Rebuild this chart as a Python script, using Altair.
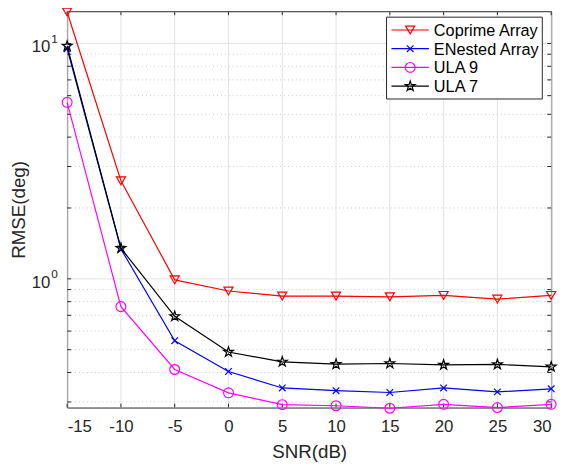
import math
import altair as alt
import pandas as pd

# ---- data ----
snr = [-15, -10, -5, 0, 5, 10, 15, 20, 25, 30]
coprime = [13.6, 2.61, 0.99, 0.888, 0.845, 0.845, 0.839, 0.85, 0.82, 0.85]
enested = [9.5, 1.34, 0.546, 0.404, 0.344, 0.335, 0.329, 0.344, 0.331, 0.341]
ula9 = [5.62, 0.762, 0.412, 0.328, 0.292, 0.289, 0.282, 0.293, 0.284, 0.293]
ula7 = [9.75, 1.35, 0.693, 0.489, 0.444, 0.434, 0.437, 0.431, 0.433, 0.423]

series_names = ["Coprime Array", "ENested Array", "ULA 9", "ULA 7"]
series_values = [coprime, enested, ula9, ula7]
series_colors = ["#ff0000", "#0000ff", "#ff00ff", "#000000"]

y_major = [1, 10]
y_minor = [0.3, 0.4, 0.5, 0.6, 0.7, 0.8, 0.9, 2, 3, 4, 5, 6, 7, 8, 9]
y_major_labels = ["10", "10"]
y_major_exps = ["0", "1"]

W, H = 491, 402
FONT = "Liberation Sans"
AX = "#262626"

# marker shapes
pts = []
for k in range(10):
    r = 1.0 if k % 2 == 0 else 0.382
    a = -math.pi / 2 + k * math.pi / 5
    pts.append((r * math.cos(a), r * math.sin(a)))
star_path = "M" + "L".join(f"{x:.3f},{y:.3f}" for x, y in pts) + "Z"
x_path = "M-1,-1L1,1M-1,1L1,-1"
series_shapes = ["triangle-down", x_path, "circle", star_path]
series_sizes = [85, 45, 100, 110]

xscale = alt.Scale(domain=[-15, 30], nice=False, zero=False)
yscale = alt.Scale(type="log", domain=[0.284, 13.7], nice=False)

x_axis = alt.Axis(values=snr, labelExpr="toString(datum.value)", ticks=False,
                  domain=False, grid=False, labelFontSize=17, labelColor=AX,
                  labelPadding=11, title="SNR(dB)", titleFontSize=19,
                  titleFontWeight="normal", titleColor=AX, titlePadding=9)
y_axis = alt.Axis(labels=False, ticks=False, domain=False, grid=False,
                  title="RMSE(deg)", titleFontSize=19, titleFontWeight="normal",
                  titleColor=AX, titlePadding=39)

def X(field):
    return alt.X(f"{field}:Q", scale=xscale, axis=x_axis)

def Y(field):
    return alt.Y(f"{field}:Q", scale=yscale, axis=y_axis)

xgrid_df = pd.DataFrame({"v": snr})
ymaj_df = pd.DataFrame({"v": y_major, "base": y_major_labels, "exp": y_major_exps})
ymin_df = pd.DataFrame({"v": y_minor})
yall_df = pd.DataFrame({"v": y_major + y_minor})

layers = []
# grid
layers.append(alt.Chart(xgrid_df).mark_rule(color="#e3e3e3", strokeWidth=1).encode(
    x=X("v"), y=alt.value(0), y2=alt.value(H)))
layers.append(alt.Chart(ymaj_df).mark_rule(color="#e3e3e3", strokeWidth=1).encode(
    y=Y("v"), x=alt.value(0), x2=alt.value(W)))
layers.append(alt.Chart(ymin_df).mark_rule(color="#c8c8c8", strokeWidth=1, strokeDash=[1, 3]).encode(
    y=Y("v"), x=alt.value(0), x2=alt.value(W)))
# inward ticks
for y0, y1 in [(0, 4), (H - 4, H)]:
    layers.append(alt.Chart(xgrid_df).mark_rule(color=AX, strokeWidth=1).encode(
        x=X("v"), y=alt.value(y0), y2=alt.value(y1)))
for x0, x1 in [(0, 4), (W - 4, W)]:
    layers.append(alt.Chart(yall_df).mark_rule(color=AX, strokeWidth=1).encode(
        y=Y("v"), x=alt.value(x0), x2=alt.value(x1)))
# y tick labels 10^n
layers.append(alt.Chart(ymaj_df).mark_text(align="right", baseline="middle", fontSize=17,
                                           color=AX, dy=4, font=FONT).encode(
    y=Y("v"), x=alt.value(-17), text="base:N"))
layers.append(alt.Chart(ymaj_df).mark_text(align="left", baseline="middle", fontSize=12,
                                           color=AX, dy=-4.5, font=FONT).encode(
    y=Y("v"), x=alt.value(-16), text="exp:N"))

# series
for name, vals, col, shp, sz in zip(series_names, series_values, series_colors,
                                     series_shapes, series_sizes):
    df = pd.DataFrame({"snr": snr, "rmse": vals})
    layers.append(alt.Chart(df).mark_line(color=col, strokeWidth=1.2).encode(
        x=X("snr"), y=Y("rmse")))
    layers.append(alt.Chart(df).mark_point(shape=shp, size=sz, filled=False, color=col,
                                           strokeWidth=1.2, opacity=1).encode(
        x=X("snr"), y=Y("rmse")))

# legend (manual, MATLAB style)
leg_df = pd.DataFrame({"name": series_names})
layers.append(alt.Chart(leg_df.head(1)).mark_rect(fill="white", stroke=AX, strokeWidth=1).encode(
    x=alt.value(324), x2=alt.value(482), y=alt.value(6), y2=alt.value(89)))
for i, (name, col, shp, sz) in enumerate(zip(series_names, series_colors,
                                              series_shapes, series_sizes)):
    yy = 19 + 19 * i
    one = pd.DataFrame({"name": [name]})
    layers.append(alt.Chart(one).mark_rule(color=col, strokeWidth=1.2).encode(
        x=alt.value(329), x2=alt.value(367), y=alt.value(yy)))
    layers.append(alt.Chart(one).mark_point(shape=shp, size=sz, filled=False, color=col,
                                            strokeWidth=1.2, opacity=1).encode(
        x=alt.value(348), y=alt.value(yy)))
    layers.append(alt.Chart(one).mark_text(align="left", baseline="middle", fontSize=16.5,
                                           color="#000000", font=FONT).encode(
        x=alt.value(372), y=alt.value(yy + 1), text="name:N"))

chart = alt.layer(*layers).properties(
    width=W, height=H,
    autosize=alt.AutoSizeParams(type="none"),
    padding={"left": 60, "top": 0, "right": 12, "bottom": 56},
).configure(font=FONT).configure_view(stroke=AX, strokeWidth=1)

chart.save("out.html", embed_options={"renderer": "svg", "actions": False})
